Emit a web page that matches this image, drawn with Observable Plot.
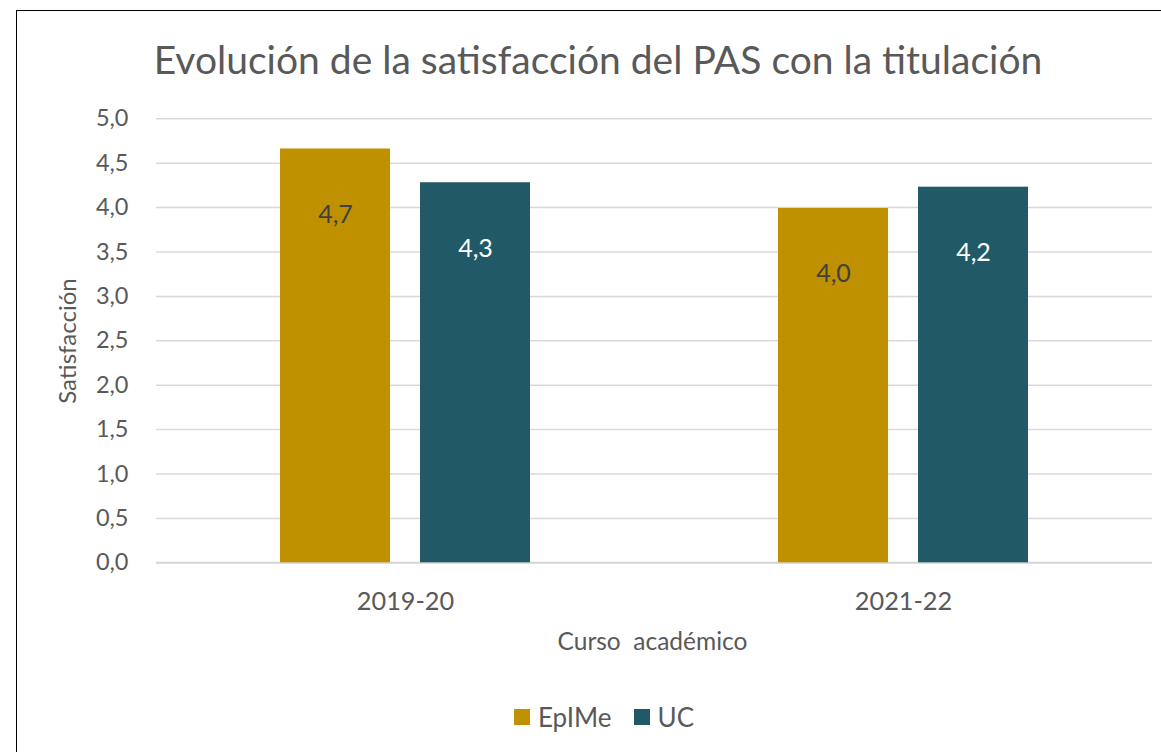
<!DOCTYPE html>
<html>
<head>
<meta charset="utf-8">
<script src="https://cdn.jsdelivr.net/npm/d3@7"></script>
<script src="https://cdn.jsdelivr.net/npm/@observablehq/plot@0.6"></script>
<style>
  html, body { margin: 0; padding: 0; background: #fff; overflow: hidden; }
  #wrap { position: relative; width: 1161px; height: 752px; font-family: Lato, "Open Sans", sans-serif; color: #595959; }
  #border { position: absolute; left: 16px; top: 10px; width: 1400px; height: 1000px; border: 1.5px solid #000; box-sizing: border-box; }
  #chart { position: absolute; left: 0; top: 0; }
  .txt { position: absolute; line-height: 1; white-space: pre; }
  #title { left: 0; width: 1196px; text-align: center; top: 40px; font-size: 39px; }
  #ylabel { left: 66.5px; top: 340.7px; font-size: 24px; transform: translate(-50%, -50%) rotate(-90deg); }
  #xlabel { left: 0; width: 1305px; text-align: center; top: 629px; font-size: 24.5px; }
  #legend { position: absolute; left: 0; width: 1208px; top: 704px; display: flex; justify-content: center; align-items: center; font-size: 26px; line-height: 1; }
  .item { display: flex; align-items: center; margin: 0 11px; }
  .sw { width: 16px; height: 16px; margin-right: 8px; }
</style>
</head>
<body>
<div id="wrap">
  <div id="border"></div>
  <div id="chart"></div>
  <div id="title" class="txt"></div>
  <div id="ylabel" class="txt"></div>
  <div id="xlabel" class="txt"></div>
  <div id="legend"></div>
</div>
<script>
// ---- data ----
const titleText = "Evolución de la satisfacción del PAS con la titulación";
const yLabelText = "Satisfacción";
const xLabelText = "Curso  académico";
const years = ["2019-20", "2021-22"];
const series = ["EpIMe", "UC"];
const epimeValues = [4.66, 3.99];
const ucValues = [4.28, 4.23];
const yTicks = [0, 0.5, 1, 1.5, 2, 2.5, 3, 3.5, 4, 4.5, 5];
const colors = ["#BF9000", "#215967"];
const labelColors = ["#404040", "#FFFFFF"];

// ---- table ----
const rows = [];
years.forEach((yr, i) => {
  rows.push({year: yr, series: series[0], value: epimeValues[i]});
  rows.push({year: yr, series: series[1], value: ucValues[i]});
});

const locale = d3.formatLocale({decimal: ",", thousands: ".", grouping: [3], currency: ["", "€"]});
const fmt = locale.format(".1f");

const chart = Plot.plot({
  width: 1161,
  height: 680,
  marginTop: 118.3,
  marginBottom: 117.7,
  marginLeft: 155,
  marginRight: 9,
  style: {fontFamily: "Lato, 'Open Sans', sans-serif", color: "#595959", background: "transparent"},
  fx: {domain: years, padding: 0, label: null, axis: null},
  x: {domain: series, paddingInner: 0.2128, paddingOuter: 0.874, axis: null},
  y: {domain: [0, 5], label: null},
  color: {domain: series, range: colors},
  marks: [
    Plot.ruleY(yTicks.filter(t => t > 0), {stroke: "#D9D9D9", strokeWidth: 1.5}),
    Plot.ruleY([0], {stroke: "#D4D4D4", strokeWidth: 2}),
    Plot.barY(rows, {fx: "year", x: "series", y: "value", fill: "series"}),
    Plot.text(rows, {
      fx: "year", x: "series", y: "value",
      text: d => fmt(d.value),
      dy: 66,
      lineAnchor: "middle",
      fontSize: 25,
      fill: d => labelColors[series.indexOf(d.series)]
    }),
    Plot.axisY({ticks: yTicks, tickFormat: fmt, tickSize: 0, tickPadding: 28, fontSize: 23.5, fill: "#595959", label: null}),
    Plot.axisFx({anchor: "bottom", tickSize: 0, tickPadding: 29, fontSize: 25.3, fill: "#595959", label: null})
  ]
});
document.getElementById("chart").appendChild(chart);

document.getElementById("title").textContent = titleText;
document.getElementById("ylabel").textContent = yLabelText;
document.getElementById("xlabel").textContent = xLabelText;

const legend = document.getElementById("legend");
series.forEach((s, i) => {
  const item = document.createElement("div");
  item.className = "item";
  const sw = document.createElement("div");
  sw.className = "sw";
  sw.style.background = colors[i];
  const lab = document.createElement("span");
  lab.textContent = s;
  item.appendChild(sw);
  item.appendChild(lab);
  legend.appendChild(item);
});
</script>
</body>
</html>
